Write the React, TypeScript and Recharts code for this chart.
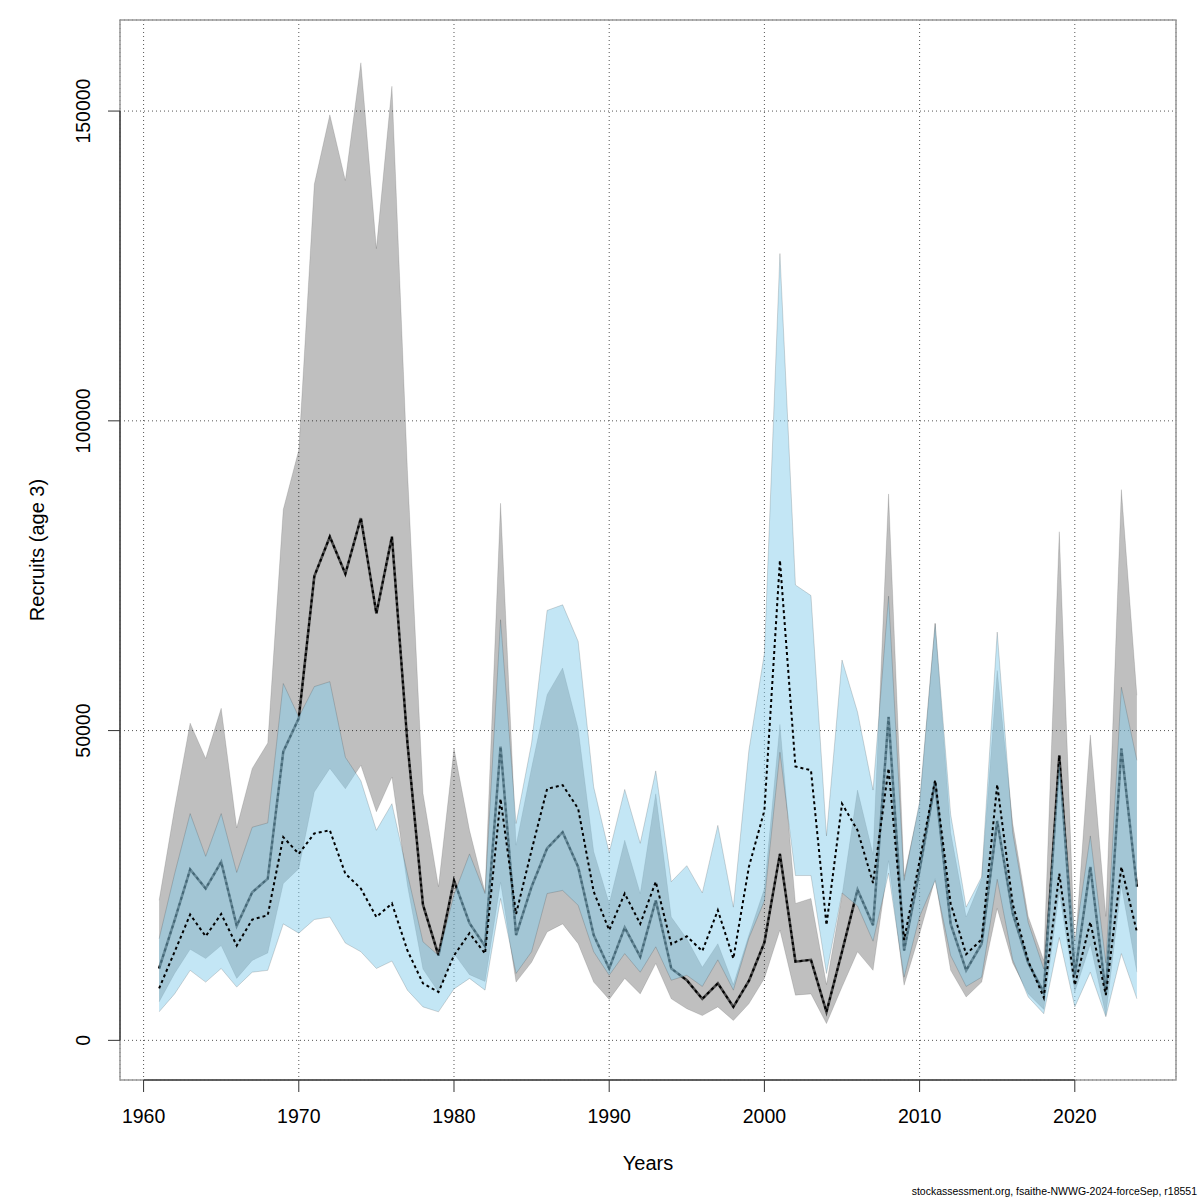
import React from 'react';
import {
  ComposedChart,
  Area,
  Line,
  XAxis,
  YAxis,
  CartesianGrid,
  ReferenceLine,
  ReferenceArea,
} from 'recharts';

const years = [
  1961, 1962, 1963, 1964, 1965, 1966, 1967, 1968, 1969, 1970,
  1971, 1972, 1973, 1974, 1975, 1976, 1977, 1978, 1979, 1980,
  1981, 1982, 1983, 1984, 1985, 1986, 1987, 1988, 1989, 1990,
  1991, 1992, 1993, 1994, 1995, 1996, 1997, 1998, 1999, 2000,
  2001, 2002, 2003, 2004, 2005, 2006, 2007, 2008, 2009, 2010,
  2011, 2012, 2013, 2014, 2015, 2016, 2017, 2018, 2019, 2020,
  2021, 2022, 2023, 2024,
];

// run 1 (grey band, solid line)
const grayLow = [
  6200, 10800, 14700, 13200, 15300, 10000, 12900, 14100, 25300, 27700,
  40100, 43900, 40600, 44400, 36900, 42500, 25000, 11500, 7800, 14000,
  10600, 9500, 25500, 9400, 12600, 17500, 18800, 15600, 9400, 6600,
  10000, 7500, 12400, 6700, 5100, 4000, 5400, 3200, 5900, 10000,
  17800, 7300, 7500, 2700, 8600, 14300, 11300, 29000, 8900, 17200,
  26100, 11300, 7000, 9400, 21300, 12500, 7500, 5000, 24000, 7800,
  15500, 4000, 25000, 11000,
];
const grayMid = [
  11600, 19400, 27600, 24500, 28800, 18500, 23900, 26100, 46600, 52000,
  74900, 81300, 75300, 84300, 68900, 81300, 48000, 21900, 13700, 25800,
  18900, 15200, 47400, 17000, 24800, 31000, 33600, 28000, 17000, 11600,
  18200, 13500, 22600, 11600, 9700, 6700, 9200, 5400, 9600, 15800,
  30100, 12700, 13000, 4600, 14300, 24300, 18600, 52200, 14500, 27500,
  41700, 18800, 11300, 15600, 35400, 20500, 12500, 7700, 46000, 10500,
  28000, 7500, 47100, 24800,
];
const grayHigh = [
  22600, 37500, 51200, 45500, 53600, 34300, 43900, 48000, 85700, 95300,
  138200, 149400, 138800, 157800, 127800, 154000, 92000, 39900, 24800, 47100,
  33900, 23900, 86700, 31500, 44000, 55800, 60100, 50300, 30500, 22100,
  32300, 23700, 39800, 19900, 16400, 11800, 15600, 9000, 17000, 24500,
  51000, 22100, 22900, 9000, 23400, 40400, 30000, 88200, 26500, 38000,
  67300, 33600, 19900, 26100, 59700, 35000, 20000, 12900, 82100, 14000,
  49300, 20000, 88900, 55700,
];

// run 2 (blue band, dotted line)
const blueLow = [
  4600, 7500, 11300, 9400, 11600, 8600, 11000, 11300, 18800, 17300,
  19500, 19900, 15700, 14300, 11600, 12800, 8100, 5400, 4600, 8300,
  10000, 8100, 22900, 10800, 14300, 23700, 24200, 21800, 14300, 10500,
  14000, 11000, 15100, 9700, 10500, 8700, 13000, 8100, 16500, 22500,
  46500, 26600, 26600, 10800, 23800, 21700, 16000, 27000, 10200, 20000,
  25800, 13700, 8700, 10200, 26000, 13000, 7000, 4300, 16600, 5400,
  11000, 3800, 14000, 6700,
];
const blueMid = [
  8400, 14300, 20300, 16800, 20400, 15300, 19500, 20200, 32800, 30100,
  33400, 33900, 26900, 24500, 19900, 22100, 14500, 9200, 7800, 13700,
  17300, 14000, 39000, 20400, 30700, 40600, 41200, 37400, 24000, 17800,
  23700, 18800, 25600, 15500, 16800, 14400, 21000, 13200, 28000, 37100,
  77500, 44200, 43600, 18600, 38200, 33900, 25400, 43900, 16200, 29000,
  42000, 22100, 13900, 16300, 41300, 22000, 12800, 6900, 26900, 8900,
  19100, 7300, 28000, 17500,
];
const blueHigh = [
  16400, 26900, 36600, 29700, 36600, 27100, 34400, 35100, 57600, 52200,
  57100, 57900, 45700, 41900, 33900, 38200, 26900, 15900, 13700, 23500,
  30100, 23700, 67900, 35000, 48000, 69400, 70300, 64400, 40900, 30300,
  40500, 31800, 43500, 25600, 28200, 23800, 34700, 21500, 46800, 62500,
  127000, 73500, 71800, 33000, 61400, 53000, 40400, 71700, 25800, 38500,
  67300, 36500, 21500, 26400, 65900, 33500, 19000, 11500, 45000, 16000,
  33000, 12500, 57000, 45200,
];

const xTicks = [1960, 1970, 1980, 1990, 2000, 2010, 2020];
const yTicks = [0, 50000, 100000, 150000];
const X_MIN = 1958.48;
const X_MAX = 2026.52;
const Y_MIN = -6400;
const Y_MAX = 164700;

const FONT = '"Liberation Sans", Arial, Helvetica, sans-serif';

const data = years.map((year, i) => ({
  year,
  gray: [grayLow[i], grayHigh[i]],
  grayMid: grayMid[i],
  blue: [blueLow[i], blueHigh[i]],
  blueMid: blueMid[i],
}));

const XTick = (props: any) => {
  const { x, y, payload } = props;
  return (
    <text x={x} y={y + 29} textAnchor="middle" fontSize={19.5} fontFamily={FONT} fill="#000">
      {payload.value}
    </text>
  );
};

const YTick = (props: any) => {
  const { y, payload } = props;
  const bx = 90.5;
  return (
    <text
      x={bx}
      y={y}
      transform={`rotate(-90 ${bx} ${y})`}
      textAnchor="middle"
      fontSize={19.5}
      fontFamily={FONT}
      fill="#000"
    >
      {payload.value}
    </text>
  );
};

const YLabel = () => (
  <text
    x={44}
    y={550}
    transform="rotate(-90 44 550)"
    textAnchor="middle"
    fontSize={20}
    fontFamily={FONT}
    fill="#000"
  >
    Recruits (age 3)
  </text>
);

const XLabel = () => (
  <text x={648} y={1170} textAnchor="middle" fontSize={20} fontFamily={FONT} fill="#000">
    Years
  </text>
);

export default function App() {
  return (
    <div style={{ position: 'absolute', left: 0, top: 0, width: 1200, height: 1200, background: '#fff' }}>
      <ComposedChart
        width={1200}
        height={1200}
        data={data}
        margin={{ top: 20, right: 24, bottom: 0, left: 0 }}
      >
        <CartesianGrid stroke="#555" strokeDasharray="1 3" strokeWidth={1} />
        <XAxis
          dataKey="year"
          type="number"
          domain={[X_MIN, X_MAX]}
          ticks={xTicks}
          allowDataOverflow
          height={120}
          tickSize={12}
          tickLine={{ stroke: '#333', strokeWidth: 1 }}
          axisLine={false}
          tick={<XTick />}
          label={<XLabel />}
          interval={0}
        />
        <YAxis
          type="number"
          domain={[Y_MIN, Y_MAX]}
          ticks={yTicks}
          allowDataOverflow
          width={120}
          tickSize={12}
          tickLine={{ stroke: '#333', strokeWidth: 1 }}
          axisLine={false}
          tick={<YTick />}
          label={<YLabel />}
          interval={0}
        />
        <Area
          type="linear"
          dataKey="gray"
          fill="#000"
          fillOpacity={0.25}
          stroke="#000"
          strokeOpacity={0.12}
          strokeWidth={1}
          isAnimationActive={false}
          dot={false}
          activeDot={false}
        />
        {/* run 1 median, drawn beneath the blue band */}
        <Area
          type="linear"
          dataKey="grayMid"
          fill="none"
          stroke="#4a4a4a"
          strokeWidth={2.6}
          isAnimationActive={false}
          dot={false}
          activeDot={false}
        />
        <Area
          type="linear"
          dataKey="grayMid"
          fill="none"
          stroke="#000"
          strokeWidth={2}
          strokeDasharray="3 3"
          isAnimationActive={false}
          dot={false}
          activeDot={false}
        />
        <Area
          type="linear"
          dataKey="blue"
          fill="#87ceeb"
          fillOpacity={0.5}
          stroke="#000"
          strokeOpacity={0.15}
          strokeWidth={1}
          isAnimationActive={false}
          dot={false}
          activeDot={false}
        />
        <Line
          type="linear"
          dataKey="blueMid"
          stroke="#000"
          strokeWidth={2}
          strokeDasharray="3 3"
          dot={false}
          activeDot={false}
          isAnimationActive={false}
        />
        <ReferenceArea
          x1={X_MIN}
          x2={X_MAX}
          y1={Y_MIN}
          y2={Y_MAX}
          fill="none"
          stroke="#999"
          strokeWidth={1.5}
          ifOverflow="visible"
        />
        <ReferenceLine
          segment={[{ x: 1960, y: Y_MIN }, { x: 2020, y: Y_MIN }]}
          stroke="#444"
          strokeWidth={1.5}
          ifOverflow="visible"
        />
        <ReferenceLine
          segment={[{ x: X_MIN, y: 0 }, { x: X_MIN, y: 150000 }]}
          stroke="#444"
          strokeWidth={1.5}
          ifOverflow="visible"
        />
      </ComposedChart>
      <div
        style={{
          position: 'absolute',
          right: 3,
          top: 1184,
          fontSize: 10.5,
          fontFamily: FONT,
          color: '#000',
          whiteSpace: 'nowrap',
          lineHeight: '14px',
        }}
      >
        stockassessment.org, fsaithe-NWWG-2024-forceSep, r18551
      </div>
    </div>
  );
}
